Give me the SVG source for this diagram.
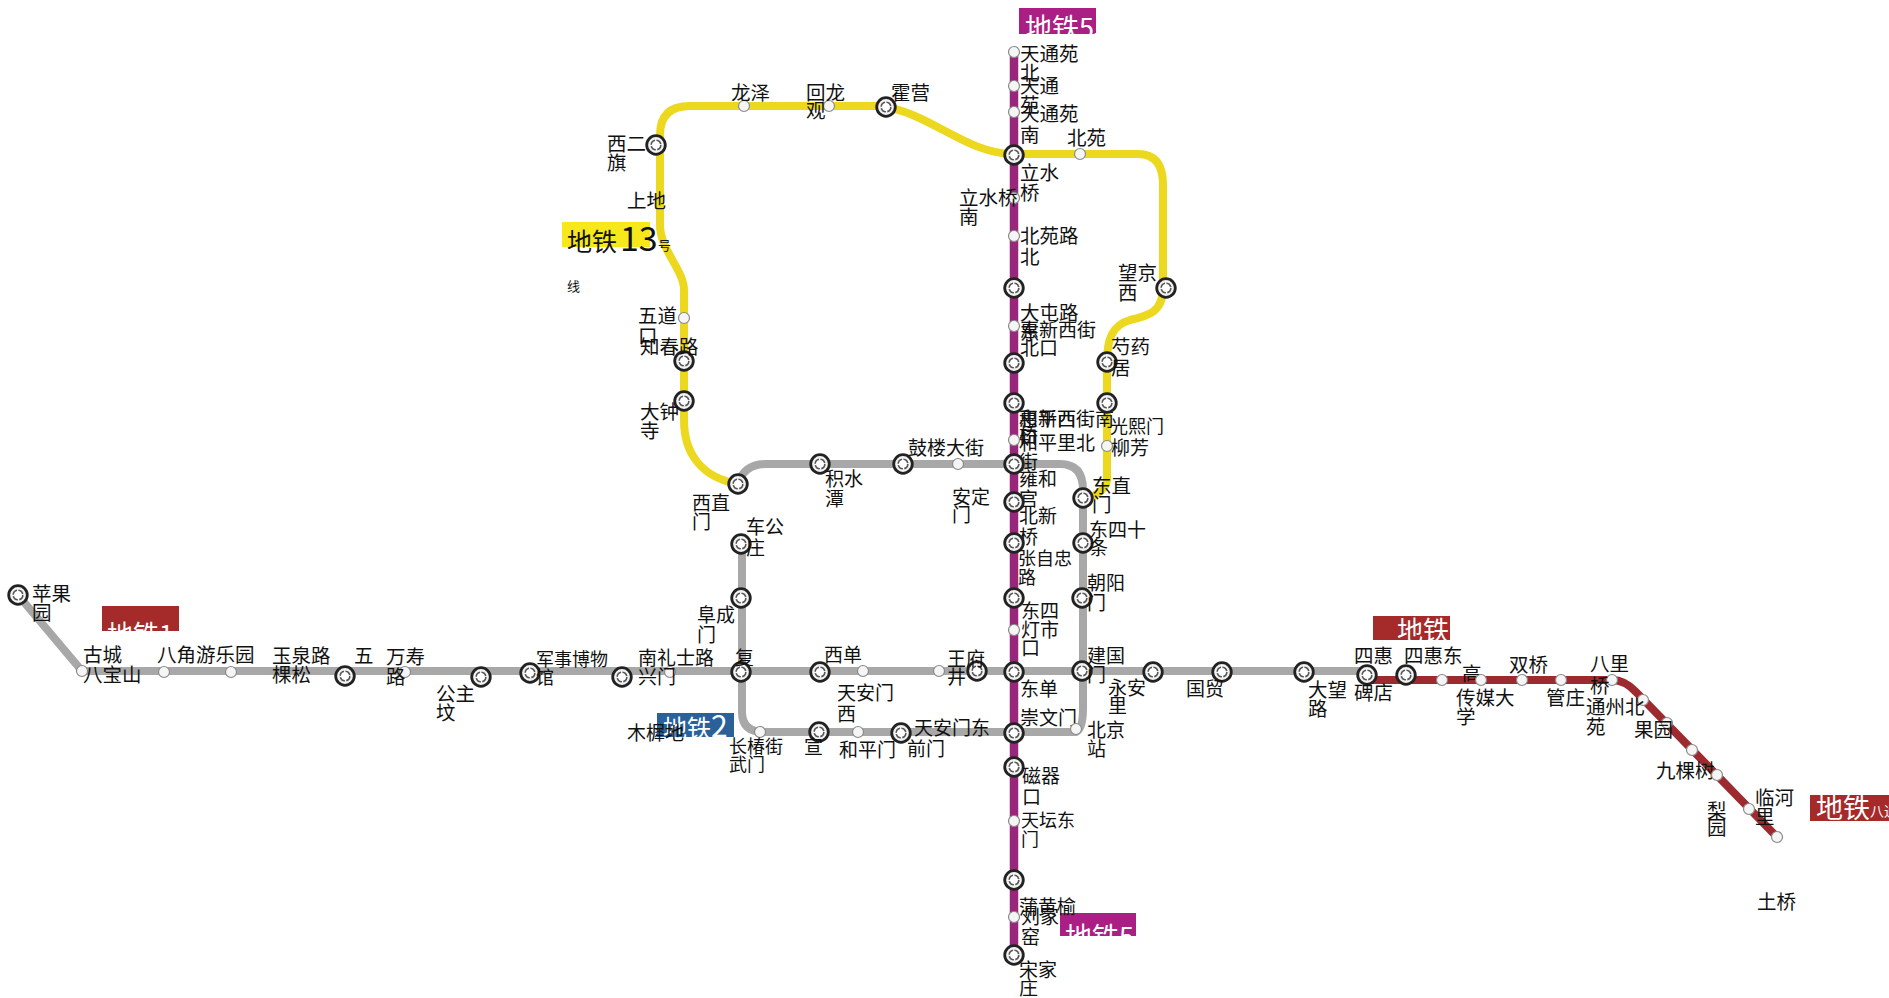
<svg xmlns="http://www.w3.org/2000/svg" width="1889" height="998" viewBox="0 0 1889 998">
<style>
text{font-family:"Noto Sans CJK SC","Noto Sans",sans-serif;font-size:19.5px;fill:#111}
.s{font-size:19px}.t{font-size:18px}
.w{fill:#fff}
.ln{fill:none;stroke-width:8;stroke-linejoin:round;stroke-linecap:round}
</style>
<defs>
<g id="st"><circle r="5.5" fill="#f5f5f5" stroke="#8a8a8a" stroke-width="1.2"/></g>
<g id="ix"><circle r="9.3" fill="#f2f2f2" stroke="#222" stroke-width="2.8"/><circle r="4.8" fill="#fff" stroke="#555" stroke-width="1.6" stroke-dasharray="6 1.5"/></g>
</defs>
<rect width="1889" height="998" fill="#fff"/>
<g id="line-badges">
<rect x="1019" y="8" width="77" height="26" fill="#ab1f85"/>
<rect x="1060" y="913" width="76" height="23" fill="#ab1f85"/>
<rect x="562" y="222" width="88" height="25" fill="#f6e81a"/>
<rect x="102" y="606" width="77" height="25" fill="#a52a2a"/>
<rect x="657" y="713" width="77" height="24" fill="#2a6198"/>
<rect x="1373" y="616" width="77" height="24" fill="#a52a2a"/>
<rect x="1810" y="795" width="79" height="26" fill="#a52a2a"/>
</g>
<g id="connectors">
<path class="ln" stroke="#a8a8a8" d="M18,595L82,671H1367"/>
<path class="ln" stroke="#a8a8a8" d="M738,484Q744,464 766,464H1060Q1083,464 1083,490V708Q1083,729 1076,732H764Q742,732 742,712V544"/>
<path class="ln" stroke="#ecd91f" d="M738,484C704,478 684,456 684,420V290C684,270 660,250 660,225V135Q660,106 690,106H880C930,112 965,154 1014,154H1138Q1163,154 1163,185V288C1163,312 1148,316 1130,320C1112,325 1107,340 1107,362V480Q1107,488 1095,495"/>
<path class="ln" stroke="#9c2a2e" d="M1367,680H1612Q1625,680 1636,692L1777,837"/>
<path class="ln" stroke="#98277c" stroke-width="8.5" style="stroke-width:8.5" d="M1014,52V955"/>
</g>
<g id="badge-text">
<text class="w" x="1025" y="38" style="font-size:27px">地铁5<tspan style="font-size:13px">号</tspan></text>
<text class="w" x="1065" y="947" style="font-size:27px">地铁5<tspan style="font-size:13px">号</tspan></text>
<text x="567" y="251" style="font-size:25px">地铁</text><text x="620" y="251" style="font-size:34px">13</text><text x="658" y="250" style="font-size:13px">号</text><text x="567" y="291" style="font-size:13px">线</text>
<text class="w" x="107" y="644" style="font-size:26px">地铁1</text>
<text class="w" x="663" y="737" style="font-size:24px">地铁<tspan style="font-size:30px">2</tspan></text>
<text class="w" x="1397" y="640" style="font-size:26px">地铁</text>
<text class="w" x="1816" y="818" style="font-size:27px">地铁<tspan style="font-size:14px" dy="-2">八通</tspan></text>
</g>
<g id="n-pingguoyuan"><use href="#ix" x="18" y="595"/><text x="32" y="601">苹果</text><text x="32" y="620">园</text></g>
<g id="n-gucheng"><use href="#st" x="82" y="671"/><text x="83" y="662">古城</text></g>
<g id="n-babaoshan"><use href="#st" x="164" y="672"/><text x="83" y="682">八宝山</text></g>
<g id="n-bajiao"><use href="#st" x="231" y="672"/><text x="157" y="662">八角游乐园</text></g>
<g id="n-yuquanlu"><use href="#ix" x="345" y="676"/><text x="272" y="663">玉泉路</text></g>
<g id="n-wukesong"><text x="272" y="682">棵松</text><text x="354" y="663">五</text></g>
<g id="n-wanshoulu"><use href="#st" x="405" y="672"/><text x="386" y="664">万寿</text><text x="386" y="684">路</text></g>
<g id="n-gongzhufen"><use href="#ix" x="481" y="677"/><text x="436" y="701">公主</text><text x="436" y="720">坟</text></g>
<g id="n-junshi"><use href="#ix" x="530" y="673"/><text class="t" x="536" y="666">军事博物</text><text class="t" x="536" y="684">馆</text></g>
<g id="n-muxidi"><use href="#ix" x="622" y="677"/><text class="s" x="627" y="740">木樨地</text></g>
<g id="n-nanlishilu"><use href="#st" x="670" y="672"/><text class="s" x="638" y="665">南礼士路</text></g>
<g id="n-fuxingmen"><use href="#ix" x="741" y="672"/><text class="s" x="735" y="665">复</text><text class="s" x="638" y="684">兴门</text></g>
<g id="n-xidan"><use href="#ix" x="820" y="672"/><text class="s" x="824" y="662">西单</text></g>
<g id="n-tiananmenxi"><use href="#st" x="863" y="671"/><text class="s" x="837" y="700">天安门</text><text class="s" x="837" y="721">西</text></g>
<g id="n-tiananmendong"><use href="#st" x="939" y="671"/><text class="s" x="914" y="735">天安门东</text></g>
<g id="n-wangfujing"><use href="#ix" x="977" y="671"/><text class="s" x="947" y="666">王府</text><text class="s" x="947" y="684">井</text></g>
<g id="n-dongdan"><use href="#ix" x="1014" y="672"/><text class="s" x="1020" y="696">东单</text></g>
<g id="n-jianguomen"><use href="#ix" x="1082" y="671"/><text class="s" x="1087" y="663">建国</text><text class="s" x="1087" y="682">门</text></g>
<g id="n-yonganli"><use href="#ix" x="1153" y="672"/><text class="s" x="1108" y="695">永安</text><text class="s" x="1108" y="713">里</text></g>
<g id="n-guomao"><use href="#ix" x="1222" y="672"/><text class="s" x="1186" y="696">国贸</text></g>
<g id="n-dawanglu"><use href="#ix" x="1304" y="672"/><text x="1308" y="697">大望</text><text x="1308" y="716">路</text></g>
<g id="n-sihui"><use href="#ix" x="1367" y="675"/><text x="1354" y="663">四惠</text></g>
<g id="n-beidian"><text x="1354" y="700">碑店</text></g>
<g id="n-sihuidong"><use href="#ix" x="1406" y="675"/><text x="1404" y="663">四惠东</text></g>
<g id="n-gaobeidian"><use href="#st" x="1442" y="680"/><text x="1462" y="681">高</text></g>
<g id="n-chuanmei"><use href="#st" x="1481" y="680"/><text x="1456" y="705">传媒大</text><text x="1456" y="724">学</text></g>
<g id="n-shuangqiao"><use href="#st" x="1522" y="680"/><text x="1509" y="672">双桥</text></g>
<g id="n-guanzhuang"><use href="#st" x="1561" y="680"/><text x="1546" y="705">管庄</text></g>
<g id="n-baliqiao"><use href="#st" x="1612" y="680"/><text x="1590" y="671">八里</text><text x="1590" y="693">桥</text></g>
<g id="n-tongzhou"><use href="#st" x="1643" y="700"/><text x="1586" y="714">通州北</text><text x="1586" y="734">苑</text></g>
<g id="n-guoyuan"><use href="#st" x="1667" y="723"/><text x="1634" y="737">果园</text></g>
<g id="n-jiukeshu"><use href="#st" x="1692" y="750"/><text x="1656" y="778">九棵树</text></g>
<g id="n-liyuan"><use href="#st" x="1717" y="775"/><text x="1707" y="818">梨</text><text x="1707" y="835">园</text></g>
<g id="n-linheli"><use href="#st" x="1749" y="809"/><text x="1755" y="805">临河</text><text x="1755" y="824">里</text></g>
<g id="n-tuqiao"><use href="#st" x="1777" y="837"/><text x="1757" y="909">土桥</text></g>
<g id="n-tiantongyuanbei"><use href="#st" x="1014" y="52"/><text x="1020" y="61">天通苑</text><text x="1020" y="80">北</text></g>
<g id="n-tiantongyuan"><use href="#st" x="1014" y="86"/><text x="1020" y="93">天通</text><text x="1020" y="112">苑</text></g>
<g id="n-tiantongyuannan"><use href="#st" x="1014" y="112"/><text x="1020" y="121">天通苑</text><text x="1020" y="142">南</text></g>
<g id="n-lishuiqiao"><use href="#ix" x="1014" y="155"/><text x="1020" y="180">立水</text><text x="1020" y="200">桥</text></g>
<g id="n-lishuiqiaonan"><use href="#st" x="1014" y="198"/><text x="959" y="205">立水桥</text><text x="959" y="224">南</text></g>
<g id="n-beiyuanlubei"><use href="#st" x="1014" y="236"/><text x="1020" y="243">北苑路</text><text x="1020" y="264">北</text></g>
<g id="n-datunlu"><use href="#ix" x="1014" y="288"/><text x="1020" y="320">大屯路</text><text x="1020" y="340">东</text></g>
<g id="n-huixinbeikou"><use href="#st" x="1014" y="326"/><text class="s" x="1020" y="337">惠新西街</text><text class="s" x="1020" y="355">北口</text></g>
<g id="n-huixinnankou"><use href="#ix" x="1014" y="363"/><text class="s" x="1019" y="426">惠新西街南</text><text class="s" x="1019" y="444">口</text></g>
<g id="n-hepingxiqiao"><use href="#ix" x="1014" y="403"/><text class="s" x="1019" y="426">和平西</text><text class="s" x="1019" y="442">桥</text></g>
<g id="n-hepinglibeijie"><use href="#st" x="1014" y="440"/><text class="s" x="1019" y="450">和平里北</text><text class="s" x="1019" y="469">街</text></g>
<g id="n-yonghegong"><use href="#ix" x="1014" y="464"/><text class="s" x="1019" y="486">雍和</text><text class="s" x="1019" y="506">宫</text></g>
<g id="n-beixinqiao"><use href="#ix" x="1014" y="502"/><text class="s" x="1019" y="523">北新</text><text class="s" x="1019" y="544">桥</text></g>
<g id="n-zhangzizhonglu"><use href="#ix" x="1014" y="543"/><text class="t" x="1018" y="565">张自忠</text><text class="t" x="1018" y="584">路</text></g>
<g id="n-dongsi"><use href="#ix" x="1014" y="598"/><text class="s" x="1021" y="618">东四</text></g>
<g id="n-dengshikou"><use href="#st" x="1014" y="630"/><text class="s" x="1021" y="637">灯市</text><text class="s" x="1021" y="655">口</text></g>
<g id="n-chongwenmen"><use href="#ix" x="1014" y="733"/><text class="s" x="1020" y="725">崇文门</text></g>
<g id="n-ciqikou"><use href="#ix" x="1014" y="767"/><text class="s" x="1022" y="783">磁器</text><text class="s" x="1022" y="804">口</text></g>
<g id="n-tiantandongmen"><use href="#st" x="1014" y="821"/><text class="t" x="1021" y="827">天坛东</text><text class="t" x="1021" y="846">门</text></g>
<g id="n-puhuangyu"><use href="#ix" x="1014" y="880"/><text class="s" x="1019" y="914">蒲黄榆</text></g>
<g id="n-liujiayao"><use href="#st" x="1014" y="917"/><text class="s" x="1021" y="924">刘家</text><text class="s" x="1021" y="944">窑</text></g>
<g id="n-songjiazhuang"><use href="#ix" x="1014" y="955"/><text class="s" x="1019" y="977">宋家</text><text class="s" x="1019" y="995">庄</text></g>
<g id="n-xierqi"><use href="#ix" x="656" y="145"/><text x="607" y="151">西二</text><text x="607" y="170">旗</text></g>
<g id="n-shangdi"><text x="627" y="208">上地</text></g>
<g id="n-longze"><use href="#st" x="744" y="106"/><text x="731" y="100">龙泽</text></g>
<g id="n-huilongguan"><use href="#st" x="829" y="106"/><text x="806" y="100">回龙</text><text x="806" y="118">观</text></g>
<g id="n-huoying"><use href="#ix" x="886" y="107"/><text x="891" y="100">霍营</text></g>
<g id="n-beiyuan"><use href="#st" x="1080" y="154"/><text x="1067" y="145">北苑</text></g>
<g id="n-wangjingxi"><use href="#ix" x="1166" y="288"/><text x="1118" y="280">望京</text><text x="1118" y="300">西</text></g>
<g id="n-shaoyaoju"><use href="#ix" x="1107" y="362"/><text x="1111" y="354">芍药</text><text x="1111" y="375">居</text></g>
<g id="n-guangximen"><use href="#ix" x="1107" y="403"/><text class="t" x="1110" y="433">光熙门</text></g>
<g id="n-liufang"><use href="#st" x="1107" y="446"/><text class="s" x="1111" y="455">柳芳</text></g>
<g id="n-dongzhimen"><use href="#ix" x="1083" y="498"/><text x="1092" y="493">东直</text><text x="1092" y="512">门</text></g>
<g id="n-dongsishitiao"><use href="#ix" x="1083" y="543"/><text class="s" x="1089" y="537">东四十</text><text class="s" x="1089" y="555">条</text></g>
<g id="n-chaoyangmen"><use href="#ix" x="1082" y="598"/><text class="s" x="1087" y="590">朝阳</text><text class="s" x="1087" y="610">门</text></g>
<g id="n-beijingzhan"><use href="#st" x="1076" y="729"/><text class="s" x="1087" y="737">北京</text><text class="s" x="1087" y="756">站</text></g>
<g id="n-wudaokou"><use href="#st" x="684" y="318"/><text x="638" y="323">五道</text><text x="638" y="343">口</text></g>
<g id="n-zhichunlu"><use href="#ix" x="684" y="361"/><text x="640" y="354">知春路</text></g>
<g id="n-dazhongsi"><use href="#ix" x="684" y="401"/><text x="640" y="419">大钟</text><text x="640" y="438">寺</text></g>
<g id="n-xizhimen"><use href="#ix" x="738" y="484"/><text class="s" x="692" y="510">西直</text><text class="s" x="692" y="529">门</text></g>
<g id="n-jishuitan"><use href="#ix" x="820" y="464"/><text class="s" x="825" y="486">积水</text><text class="s" x="825" y="506">潭</text></g>
<g id="n-guloudajie"><use href="#ix" x="903" y="464"/><text class="s" x="908" y="455">鼓楼大街</text></g>
<g id="n-andingmen"><use href="#st" x="958" y="464"/><text class="s" x="952" y="504">安定</text><text class="s" x="952" y="522">门</text></g>
<g id="n-chegongzhuang"><use href="#ix" x="741" y="544"/><text class="s" x="746" y="534">车公</text><text class="s" x="746" y="555">庄</text></g>
<g id="n-fuchengmen"><use href="#ix" x="741" y="598"/><text class="s" x="697" y="622">阜成</text><text class="s" x="697" y="642">门</text></g>
<g id="n-changchunjie"><use href="#st" x="760" y="732"/><text class="t" x="729" y="753">长椿街</text><text class="t" x="729" y="771">武门</text></g>
<g id="n-xuanwumen"><use href="#ix" x="819" y="732"/><text class="s" x="804" y="754">宣</text></g>
<g id="n-hepingmen"><use href="#st" x="858" y="732"/><text class="s" x="839" y="757">和平门</text></g>
<g id="n-qianmen"><use href="#ix" x="901" y="733"/><text class="s" x="907" y="756">前门</text></g>
</svg>
